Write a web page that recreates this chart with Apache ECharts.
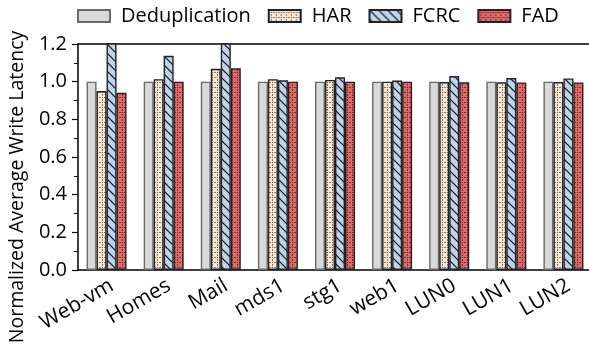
<!DOCTYPE html>
<html><head><meta charset="utf-8">
<script src="https://cdn.jsdelivr.net/npm/echarts/dist/echarts.min.js"></script>
<style>html,body{margin:0;padding:0;background:#fff}#chart{width:589px;height:345px}</style>
</head><body><div id="chart"></div>
<script>
// Workloads on the x axis
const categories = ['Web-vm', 'Homes', 'Mail', 'mds1', 'stg1', 'web1', 'LUN0', 'LUN1', 'LUN2'];
// Normalized average write latency per scheme
const dedupValues = [1.0, 1.0, 1.0, 1.0, 1.0, 1.0, 1.0, 1.0, 1.0];
const harValues = [0.950, 1.013, 1.068, 1.013, 1.009, 1.000, 0.998, 0.997, 0.998];
const fcrcValues = [1.28, 1.137, 1.25, 1.007, 1.023, 1.006, 1.030, 1.019, 1.017];
const fadValues = [0.941, 1.000, 1.071, 1.000, 1.000, 1.000, 0.997, 0.996, 0.996];
const seriesNames = ['Deduplication', 'HAR', 'FCRC', 'FAD'];
const yTickValues = [0.0, 0.2, 0.4, 0.6, 0.8, 1.0, 1.2];

const FONT = 'Open Sans';

// Fill patterns
function gridTile(bg, dot) {
  const s = 5;
  const c = document.createElement('canvas');
  c.width = s; c.height = s;
  const g = c.getContext('2d');
  g.fillStyle = bg; g.fillRect(0, 0, s, s);
  g.fillStyle = dot;
  for (let i = 0; i < s; i++) {
    if (i % 2 === 0) {
      g.fillRect(2, i, 1, 1);
      g.fillRect(i, 2, 1, 1);
    }
  }
  return c;
}
function hatchTile(bg, line) {
  const s = 9;
  const c = document.createElement('canvas');
  c.width = s; c.height = s;
  const g = c.getContext('2d');
  g.fillStyle = bg; g.fillRect(0, 0, s, s);
  g.strokeStyle = line; g.lineWidth = 1.2;
  for (let k = -1; k <= 1; k++) {
    g.beginPath();
    g.moveTo(-2, -2 + k * s);
    g.lineTo(s + 2, s + 2 + k * s);
    g.stroke();
  }
  return c;
}

const fills = [
  '#d9d9d9',
  { image: gridTile('#f8e7d6', 'rgba(110,80,50,0.75)'), repeat: 'repeat' },
  { image: hatchTile('#bed3ee', '#111'), repeat: 'repeat' },
  { image: gridTile('#e06a6a', 'rgba(100,25,25,0.75)'), repeat: 'repeat' }
];
const borders = ['#6a6a6a', '#222', '#222', '#222'];
const valueSets = [dedupValues, harValues, fcrcValues, fadValues];

const chart = echarts.init(document.getElementById('chart'), null, { renderer: 'canvas' });
chart.setOption({
  animation: false,
  textStyle: { fontFamily: FONT },
  legend: {
    left: 77, top: 6, icon: 'rect', padding: 0,
    itemWidth: 32, itemHeight: 12, itemGap: 17,
    textStyle: { fontFamily: FONT, fontSize: 20, color: '#000', padding: [0, 0, 0, 6] },
    data: seriesNames
  },
  grid: { left: 78, right: -3, top: 44, bottom: 75, containLabel: false, outerBoundsMode: 'none' },
  xAxis: [
    {
      type: 'category', data: categories, position: 'bottom',
      axisLine: { lineStyle: { color: '#000', width: 1.5 } },
      axisTick: { alignWithLabel: true, length: 7, lineStyle: { color: '#555', width: 1.5 } },
      axisLabel: {
        rotate: 30, interval: 0, fontSize: 21, color: '#000', margin: 5, fontFamily: FONT,
        hideOverlap: false, align: 'right', verticalAlign: 'top'
      }
    },
    {
      type: 'category', data: categories, position: 'bottom',
      axisLine: { show: false },
      axisTick: { length: 3, lineStyle: { color: '#555', width: 1.2 } },
      axisLabel: { show: false }
    },
    {
      type: 'category', data: categories, position: 'top',
      axisLine: { lineStyle: { color: '#000', width: 1.5 } },
      axisTick: { show: false }, axisLabel: { show: false }
    }
  ],
  yAxis: {
    type: 'value', min: 0, max: 1.2, interval: 0.2,
    name: 'Normalized Average Write Latency', nameLocation: 'middle', nameGap: 51,
    nameTextStyle: { fontSize: 19.5, color: '#000', fontFamily: FONT, padding: [0, 60, 0, 0] },
    axisLine: { show: true, lineStyle: { color: '#000', width: 1.5 } },
    axisTick: { show: true, length: 6, lineStyle: { color: '#000', width: 1.2 } },
    minorTick: { show: true, splitNumber: 2, length: 4, lineStyle: { color: '#000', width: 1 } },
    splitLine: { show: false },
    axisLabel: {
      fontSize: 20, color: '#000', margin: 11, fontFamily: FONT,
      formatter: v => yTickValues.find(t => Math.abs(t - v) < 1e-6).toFixed(1)
    }
  },
  series: seriesNames.map((name, i) => ({
    name, type: 'bar', xAxisIndex: 0,
    data: valueSets[i],
    barWidth: 10, barGap: '0%',
    itemStyle: { color: fills[i], borderColor: borders[i], borderWidth: 1.4 }
  }))
});
</script></body></html>
